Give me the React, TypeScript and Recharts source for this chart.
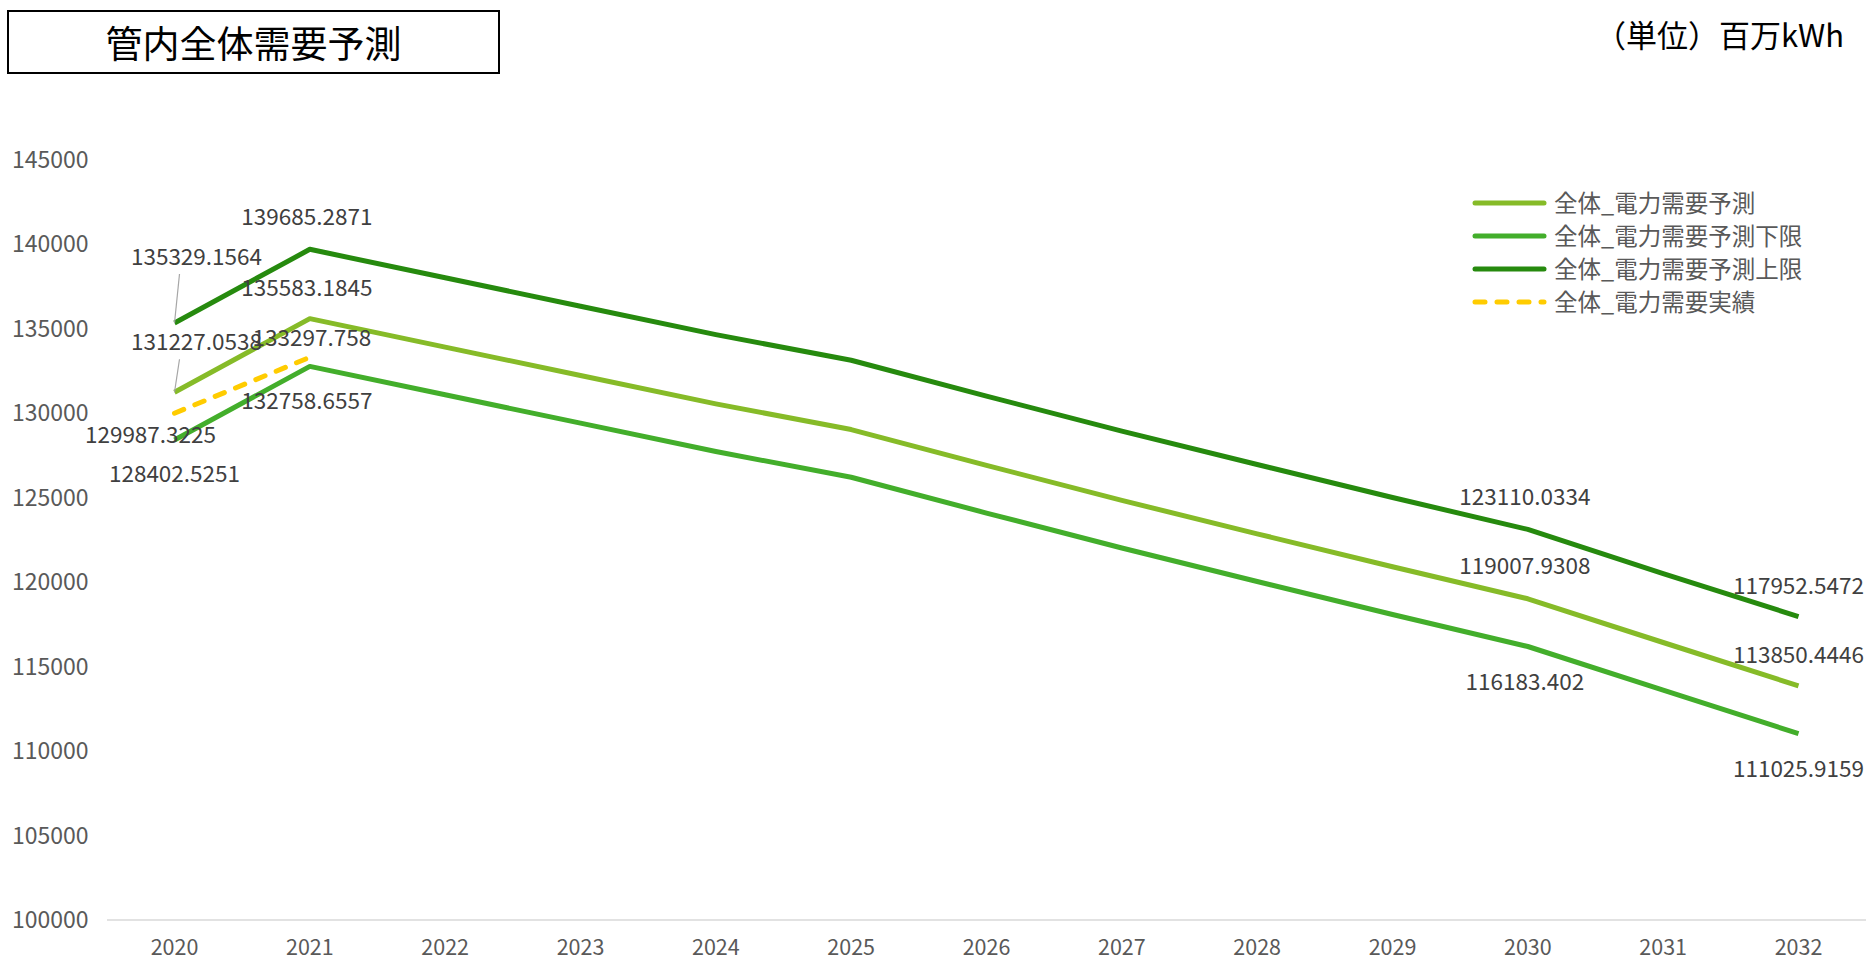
import { LabelList, Legend, Line, LineChart, XAxis, YAxis } from "recharts"

const FONT = "'Noto Sans CJK JP', 'Noto Sans', sans-serif"

const years = ["2020", "2021", "2022", "2023", "2024", "2025", "2026", "2027", "2028", "2029", "2030", "2031", "2032"]

const seriesNames = ["全体_電力需要予測", "全体_電力需要予測下限", "全体_電力需要予測上限", "全体_電力需要実績"]

// 全体_電力需要予測
const forecast = [
  131227.0538, 135583.1845, 133900, 132220, 130540, 129020, 126900, 124830, 122850, 120900, 119007.9308,
  116420, 113850.4446,
]
// 全体_電力需要予測下限
const lowerBound = [
  128402.5251, 132758.6557, 131080, 129400, 127720, 126200, 124080, 122010, 120030, 118080, 116183.402,
  113600, 111025.9159,
]
// 全体_電力需要予測上限
const upperBound = [
  135329.1564, 139685.2871, 138000, 136320, 134640, 133120, 131000, 128930, 126950, 125000, 123110.0334,
  120500, 117952.5472,
]
// 全体_電力需要実績
const actual: (number | null)[] = [129987.3225, 133297.758, null, null, null, null, null, null, null, null, null, null, null]

const yTicks = [100000, 105000, 110000, 115000, 120000, 125000, 130000, 135000, 140000, 145000]

const data = years.map((year, i) => ({
  year,
  forecast: forecast[i],
  lower: lowerBound[i],
  upper: upperBound[i],
  actual: actual[i],
}))

type Place = { dx: number; dy: number; leader?: boolean }

// which points carry a data label, and where the label sits relative to the point
const makeLabel = (places: Record<number, Place>) => (props: any) => {
  const { x, y, value, index } = props
  const p = places[index]
  if (!p || value == null) return null
  return (
    <g>
      {p.leader && (
        <line x1={x + 5} y1={y + p.dy + 17} x2={x} y2={y} stroke="#a6a6a6" strokeWidth={1.2} />
      )}
      <text
        x={x + p.dx}
        y={y + p.dy}
        dy={8}
        textAnchor="middle"
        fontSize={22.5}
        fill="#404040"
        fontFamily={FONT}
      >
        {value}
      </text>
    </g>
  )
}

const YTick = ({ y, payload }: any) => (
  <text x={12} y={y} dy={8} textAnchor="start" fontSize={23} fill="#595959" fontFamily={FONT}>
    {payload.value}
  </text>
)

const XTick = ({ x, y, payload }: any) => (
  <text x={x} y={y} dy={27} textAnchor="middle" fontSize={21.5} fill="#595959" fontFamily={FONT}>
    {payload.value}
  </text>
)

const LegendBox = ({ payload }: any) => {
  const items = [...(payload || [])].sort(
    (a: any, b: any) => seriesNames.indexOf(a.value) - seriesNames.indexOf(b.value)
  )
  return (
    <div style={{ fontFamily: FONT }}>
      {items.map((item: any) => (
        <div key={item.value} style={{ display: "flex", alignItems: "center", height: 33 }}>
          <svg width={78} height={10} style={{ marginRight: 4 }}>
            <line
              x1={3}
              y1={5}
              x2={72}
              y2={5}
              stroke={item.color}
              strokeWidth={5}
              strokeLinecap="round"
              strokeDasharray={item.payload?.strokeDasharray}
            />
          </svg>
          <span style={{ fontSize: 23.5, color: "#595959", lineHeight: "33px" }}>{item.value}</span>
        </div>
      ))}
    </div>
  )
}

export default function App() {
  return (
    <div style={{ position: "absolute", left: 0, top: 0, width: 1866, height: 963, background: "#fff" }}>
      <div
        style={{
          position: "absolute",
          left: 7,
          top: 10,
          width: 489,
          height: 60,
          border: "2px solid #000",
          display: "flex",
          alignItems: "center",
          justifyContent: "center",
          fontFamily: FONT,
          fontSize: 37,
          color: "#000",
          zIndex: 2,
        }}
      >
        管内全体需要予測
      </div>
      <div
        style={{
          position: "absolute",
          left: 1595,
          top: 11,
          fontFamily: FONT,
          fontSize: 31,
          color: "#000",
          whiteSpace: "nowrap",
          zIndex: 2,
        }}
      >
        （単位）百万kWh
      </div>
      <LineChart width={1866} height={963} data={data} margin={{ top: 159.5, right: 0, left: 0, bottom: 0 }}>
        <XAxis
          dataKey="year"
          height={43}
          padding={{ left: 67.5, right: 67.5 }}
          tickLine={false}
          axisLine={{ stroke: "#d9d9d9", strokeWidth: 1.5 }}
          tick={<XTick />}
          interval={0}
        />
        <YAxis
          width={107}
          domain={[100000, 145000]}
          ticks={yTicks}
          axisLine={false}
          tickLine={false}
          tick={<YTick />}
        />
        <Legend
          verticalAlign="top"
          align="left"
          content={<LegendBox />}
          wrapperStyle={{ position: "absolute", left: 1472, top: 186, width: 390, height: 0, overflow: "visible" }}
        />
        <Line
          name={seriesNames[0]}
          dataKey="forecast"
          stroke="#86bb28"
          strokeWidth={5}
          dot={false}
          strokeLinejoin="round"
          isAnimationActive={false}
        >
          <LabelList
            dataKey="forecast"
            content={makeLabel({
              0: { dx: 22, dy: -50, leader: true },
              1: { dx: -3, dy: -31 },
              10: { dx: -3, dy: -33 },
              12: { dx: 0, dy: -31 },
            })}
          />
        </Line>
        <Line
          name={seriesNames[1]}
          dataKey="lower"
          stroke="#43ae2b"
          strokeWidth={5}
          dot={false}
          strokeLinejoin="round"
          isAnimationActive={false}
        >
          <LabelList
            dataKey="lower"
            content={makeLabel({
              0: { dx: 0, dy: 34 },
              1: { dx: -3, dy: 35 },
              10: { dx: -3, dy: 35 },
              12: { dx: 0, dy: 35 },
            })}
          />
        </Line>
        <Line
          name={seriesNames[2]}
          dataKey="upper"
          stroke="#268a0e"
          strokeWidth={5}
          dot={false}
          strokeLinejoin="round"
          isAnimationActive={false}
        >
          <LabelList
            dataKey="upper"
            content={makeLabel({
              0: { dx: 22, dy: -66, leader: true },
              1: { dx: -3, dy: -32 },
              10: { dx: -3, dy: -32 },
              12: { dx: 0, dy: -31 },
            })}
          />
        </Line>
        <Line
          name={seriesNames[3]}
          dataKey="actual"
          stroke="#ffcc00"
          strokeWidth={5}
          strokeDasharray="10 12"
          strokeLinecap="round"
          dot={false}
          isAnimationActive={false}
        >
          <LabelList
            dataKey="actual"
            content={makeLabel({
              0: { dx: -24, dy: 22 },
              1: { dx: 2, dy: -19 },
            })}
          />
        </Line>
      </LineChart>
    </div>
  )
}
